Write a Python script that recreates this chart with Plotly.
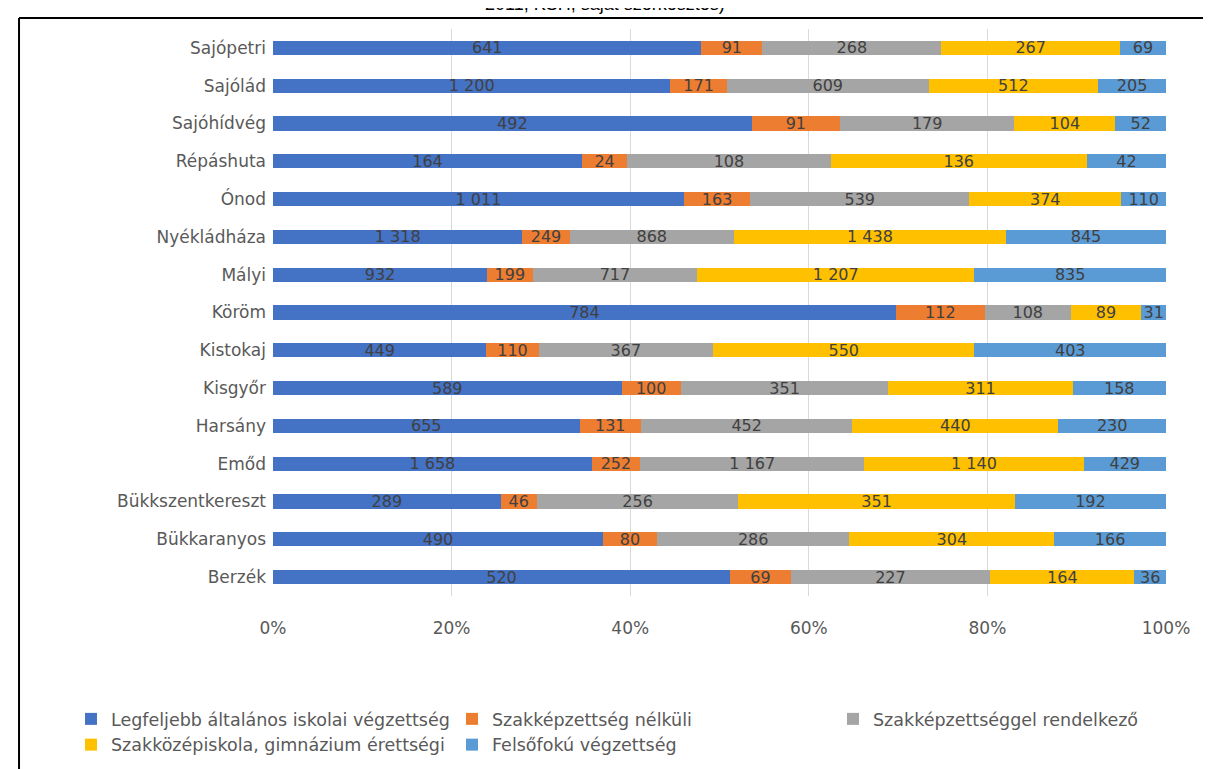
import plotly.graph_objects as go

# településnevek alulról felfelé (Excel sorrend)
telepulesek = ["Berzék", "Bükkaranyos", "Bükkszentkereszt", "Emőd", "Harsány", "Kisgyőr",
               "Kistokaj", "Köröm", "Mályi", "Nyékládháza", "Ónod", "Répáshuta",
               "Sajóhídvég", "Sajólád", "Sajópetri"]

altalanos = [520, 490, 289, 1658, 655, 589, 449, 784, 932, 1318, 1011, 164, 492, 1200, 641]
szakkepzettseg_nelkul = [69, 80, 46, 252, 131, 100, 110, 112, 199, 249, 163, 24, 91, 171, 91]
szakkepzettseggel = [227, 286, 256, 1167, 452, 351, 367, 108, 717, 868, 539, 108, 179, 609, 268]
erettsegi = [164, 304, 351, 1140, 440, 311, 550, 89, 1207, 1438, 374, 136, 104, 512, 267]
felsofoku = [36, 166, 192, 429, 230, 158, 403, 31, 835, 845, 110, 42, 52, 205, 69]

sorozat_nevek = ["Legfeljebb általános iskolai végzettség", "Szakképzettség nélküli",
                 "Szakképzettséggel rendelkező", "Szakközépiskola, gimnázium érettségi",
                 "Felsőfokú végzettség"]
szinek = ["#4472C4", "#ED7D31", "#A5A5A5", "#FFC000", "#5B9BD5"]

FONT = "DejaVu Sans"


def fmt(v):
    return f"{v:,}".replace(",", " ")


fig = go.Figure()
for nev, ertekek, szin in zip(sorozat_nevek,
                              [altalanos, szakkepzettseg_nelkul, szakkepzettseggel, erettsegi, felsofoku],
                              szinek):
    fig.add_trace(go.Bar(
        y=telepulesek, x=ertekek, name=nev, orientation="h",
        marker=dict(color=szin, line=dict(width=0)),
        text=[fmt(v) for v in ertekek], textposition="inside", insidetextanchor="middle",
        constraintext="none", textfont=dict(family=FONT, size=16, color="#404040"),
        hoverinfo="x+y+name",
    ))

# a böngésző 8 px-es body margóját kompenzáljuk
fig.update_layout(
    width=1211, height=769,
    barmode="stack", barnorm="percent", bargap=0.62,
    paper_bgcolor="white", plot_bgcolor="white",
    margin=dict(l=265, r=53, t=21, b=181, autoexpand=False),
    font=dict(family=FONT, color="#595959"),
    xaxis=dict(range=[0, 100], dtick=20, ticksuffix="%", showgrid=True, gridcolor="#D9D9D9",
               gridwidth=1, zeroline=False, showline=False, tickfont=dict(size=17, color="#595959"),
               ticks="", ticklabelstandoff=20),
    yaxis=dict(showgrid=False, zeroline=False, showline=False, ticks="",
               tickfont=dict(size=17, color="#595959"), ticklabelstandoff=6),
    legend=dict(orientation="h", x=(63 - 265) / 893, xanchor="left", y=(588 - 693) / 567, yanchor="top",
                entrywidth=336, entrywidthmode="pixels", traceorder="normal",
                font=dict(size=17.5, color="#595959"), itemwidth=30),
    showlegend=True,
)

# keret a diagram körül
fig.add_shape(type="line", xref="paper", yref="paper", x0=-0.2844, x1=1.1, y0=1.0194, y1=1.0194,
              line=dict(color="#000000", width=2))
fig.add_shape(type="line", xref="paper", yref="paper", x0=-0.2844, x1=-0.2844, y0=1.0194, y1=-0.4,
              line=dict(color="#000000", width=2))

# levágott cím a kép tetején
fig.add_annotation(text="2011, KSH, saját szerkesztés)", xref="paper", yref="paper",
                   x=(605 - 273) / 893, y=1 + 25 / 567, xanchor="center", yanchor="middle",
                   showarrow=False, font=dict(family="Liberation Sans", size=18, color="#000000"))

fig.write_html("out.html")
